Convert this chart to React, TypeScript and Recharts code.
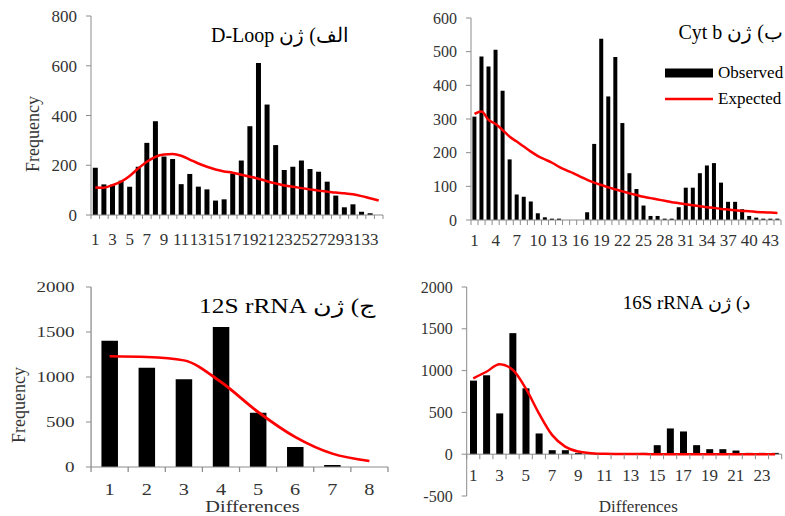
import React from "react";
import { ComposedChart, Bar, Line, XAxis, YAxis, ReferenceLine, Legend } from "recharts";

// panel A: D-Loop
const diffA = ["1","2","3","4","5","6","7","8","9","10","11","12","13","14","15","16","17","18","19","20","21","22","23","24","25","26","27","28","29","30","31","32","33","34"];
const observedA = [190,123,122,138,114,194,290,377,235,225,124,165,114,103,58,63,167,219,357,611,444,281,181,194,219,185,174,134,78,31,43,13,7,0];
const expectedA = [111,110,120,134,157,187,214,234,243,245,238,223,207,194,183,175,170,162,154,146,136,127,119,114,108,103,98,94,90,87,83,76,67,58];
const ticksA = [0,200,400,600,800];

// panel B: Cyt b
const diffB = ["1","2","3","4","5","6","7","8","9","10","11","12","13","14","15","16","17","18","19","20","21","22","23","24","25","26","27","28","29","30","31","32","33","34","35","36","37","38","39","40","41","42","43","44"];
const observedB = [307,486,456,506,384,180,76,69,55,20,8,4,4,0,0,0,23,226,538,367,484,288,139,92,43,12,12,4,4,38,96,96,139,162,169,111,54,54,32,12,7,4,4,4];
const expectedB = [315,322,297,285,267,247,233,218,203,190,180,170,158,148,139,129,119,111,104,97,91,85,79,74,69,65,61,57,53,50,47,44,41,38,36,33,31,29,27,26,24,23,22,21];
const ticksB = [0,100,200,300,400,500,600];

// panel C: 12S rRNA
const diffC = ["1","2","3","4","5","6","7","8"];
const observedC = [1404,1104,974,1556,604,222,22,0];
const expectedC = [1230,1222,1185,944,611,333,148,67];
const ticksC = [0,500,1000,1500,2000];

// panel D: 16S rRNA
const diffD = ["1","2","3","4","5","6","7","8","9","10","11","12","13","14","15","16","17","18","19","20","21","22","23","24"];
const observedD = [880,944,488,1448,788,248,48,48,16,0,0,0,0,16,108,308,272,108,60,60,44,16,16,16];
const expectedD = [907,986,1075,1010,787,489,231,91,32,12,4,2,1,1,0,0,0,0,0,0,0,0,0,0];
const ticksD = [-500,0,500,1000,1500,2000];

const AXIS = "#8c8c8c";
const TEXT = "#333";
const RED = "#ff0000";
const FONT = '"Liberation Serif", "Times New Roman", serif';
const C_SCALE = 1.27;

const toRows = (cats: string[], obs: number[], exp: number[]) =>
  cats.map((d, i) => ({ d, observed: obs[i], expected: exp[i] }));

type BandTickProps = {
  x?: number; y?: number; payload?: any; index?: number;
  half: number; count: number; every: number; fontSize: number; labelDy: number; tickLen: number; shift?: number;
};

// excel-style ticks: marks between categories, label on every n-th
function BandTick({ x = 0, y = 0, payload, index = 0, half, count, every, fontSize, labelDy, tickLen, shift = 0 }: BandTickProps) {
  const y0 = y - shift;
  return (
    <g>
      <line x1={x - half} x2={x - half} y1={y0} y2={y0 + tickLen} stroke={AXIS} />
      {index === count - 1 && <line x1={x + half} x2={x + half} y1={y0} y2={y0 + tickLen} stroke={AXIS} />}
      {index % every === 0 && (
        <text x={x} y={y0 + labelDy} textAnchor="middle" fontSize={fontSize} fill={TEXT} fontFamily={FONT}>
          {payload?.value}
        </text>
      )}
    </g>
  );
}

function renderLegend(props: any) {
  const items = (props.payload || []).slice().sort((a: any, b: any) => (a.type === "line" ? 1 : 0) - (b.type === "line" ? 1 : 0));
  return (
    <div style={{ fontFamily: FONT }}>
      {items.map((e: any) => (
        <div key={e.value} style={{ display: "flex", alignItems: "center", height: 26 }}>
          <svg width={48} height={12}>
            {e.type === "line"
              ? <line x1={0} x2={48} y1={6} y2={6} stroke={e.color} strokeWidth={2.5} />
              : <rect x={0} y={1.5} width={48} height={9} fill={e.color} />}
          </svg>
          <span style={{ marginLeft: 5, fontSize: 17, color: "#000", whiteSpace: "nowrap" }}>{e.value}</span>
        </div>
      ))}
    </div>
  );
}

export default function App() {
  const rowsA = toRows(diffA, observedA, expectedA);
  const rowsB = toRows(diffB, observedB, expectedB);
  const rowsC = toRows(diffC, observedC, expectedC);
  const rowsD = toRows(diffD, observedD, expectedD);

  const yCommon = { axisLine: { stroke: AXIS }, tickLine: { stroke: AXIS }, tickSize: 5, tickMargin: 9, interval: 0 as const };

  return (
    <div style={{ position: "absolute", left: 0, top: 0, width: 785, height: 516, overflow: "hidden", background: "#fff", fontFamily: FONT }}>
      {/* A */}
      <div style={{ position: "absolute", left: 0, top: 0 }}>
        <ComposedChart width={390} height={250} data={rowsA} margin={{ top: 16, right: 7, bottom: 0, left: 0 }} barCategoryGap="21%">
          <XAxis dataKey="d" height={35} interval={0} axisLine={{ stroke: AXIS }} tickLine={false} tickSize={0} tickMargin={0}
            tick={(p: any) => <BandTick {...p} half={292 / 34 / 2} count={34} every={2} fontSize={17} labelDy={30} tickLen={4} />} />
          <YAxis width={91} domain={[0, 800]} ticks={ticksA} tick={{ fontSize: 17, fill: TEXT }} {...yCommon} />
          <Bar dataKey="observed" name="Observed" fill="#000" isAnimationActive={false} />
          <Line dataKey="expected" name="Expected" type="monotone" stroke={RED} strokeWidth={2.5} dot={false} isAnimationActive={false} />
        </ComposedChart>
      </div>

      {/* B */}
      <div style={{ position: "absolute", left: 390, top: 0 }}>
        <ComposedChart width={395} height={250} data={rowsB} margin={{ top: 18, right: 4, bottom: 0, left: 0 }} barCategoryGap="20%">
          <XAxis dataKey="d" height={30} interval={0} axisLine={{ stroke: AXIS }} tickLine={false} tickSize={0} tickMargin={0}
            tick={(p: any) => <BandTick {...p} half={310 / 44 / 2} count={44} every={3} fontSize={17} labelDy={26} tickLen={5} />} />
          <YAxis width={81} domain={[0, 600]} ticks={ticksB} tick={{ fontSize: 16, fill: TEXT }} {...yCommon} />
          <Legend layout="vertical" align="center" verticalAlign="middle" content={renderLegend}
            wrapperStyle={{ left: 275, top: 60, width: 120 }} />
          <Bar dataKey="observed" name="Observed" fill="#000" isAnimationActive={false} />
          <Line dataKey="expected" name="Expected" type="monotone" stroke={RED} strokeWidth={2.5} dot={false} isAnimationActive={false} legendType="line" />
        </ComposedChart>
      </div>

      {/* C (source is stretched horizontally) */}
      <div style={{ position: "absolute", left: 0, top: 260, transform: `scaleX(${C_SCALE})`, transformOrigin: "0 0" }}>
        <ComposedChart width={307} height={256} data={rowsC} margin={{ top: 27, right: 1.5, bottom: 0, left: 0 }} barCategoryGap="28%">
          <XAxis dataKey="d" height={49} interval={0} axisLine={{ stroke: AXIS }} tickLine={false} tickSize={0} tickMargin={0}
            tick={(p: any) => <BandTick {...p} half={233.8 / 8 / 2} count={8} every={1} fontSize={16} labelDy={28} tickLen={5} />} />
          <YAxis width={71.7} domain={[0, 2000]} ticks={ticksC} tick={{ fontSize: 15, fill: TEXT }} {...yCommon} tickSize={4} tickMargin={9} />
          <Bar dataKey="observed" name="Observed" fill="#000" isAnimationActive={false} />
          <Line dataKey="expected" name="Expected" type="monotone" stroke={RED} strokeWidth={2.5} dot={false} isAnimationActive={false} />
        </ComposedChart>
      </div>

      {/* D */}
      <div style={{ position: "absolute", left: 390, top: 260 }}>
        <ComposedChart width={395} height={256} data={rowsD} margin={{ top: 27, right: 3.3, bottom: 0, left: 0 }} barCategoryGap="25%">
          <XAxis dataKey="d" height={20} interval={0} axisLine={false} tickLine={false} tickSize={0} tickMargin={0}
            tick={(p: any) => <BandTick {...p} half={315 / 24 / 2} count={24} every={2} fontSize={17} labelDy={27} tickLen={5} shift={209 * 0.2} />} />
          <YAxis width={76.7} domain={[-500, 2000]} ticks={ticksD} tick={{ fontSize: 16, fill: TEXT }} {...yCommon} />
          <ReferenceLine y={0} stroke={AXIS} />
          <Bar dataKey="observed" name="Observed" fill="#000" isAnimationActive={false} />
          <Line dataKey="expected" name="Expected" type="monotone" stroke={RED} strokeWidth={2.5} dot={false} isAnimationActive={false} />
        </ComposedChart>
      </div>

      <svg width={785} height={516} style={{ position: "absolute", left: 0, top: 0, pointerEvents: "none" }} fontFamily={FONT}>
        <text x={280} y={41.7} textAnchor="middle" direction="rtl" fontSize={20} fill="#000">الف) ژن D-Loop</text>
        <text x={783} y={39.3} textAnchor="start" direction="rtl" fontSize={20} fill="#000">ب) ژن Cyt b</text>
        <text transform={`translate(287.5,313.3) scale(${C_SCALE},1)`} textAnchor="middle" direction="rtl" fontSize={20} fill="#000">ج) ژن 12S rRNA</text>
        <text x={686.5} y={309} textAnchor="middle" direction="rtl" fontSize={19} fill="#000">د) ژن 16S rRNA</text>

        <text transform="translate(33,134) rotate(-90)" textAnchor="middle" dy="0.35em" fontSize={18} fill={TEXT}>Frequency</text>
        <text transform="translate(18.3,405) rotate(-90)" textAnchor="middle" dy="0.35em" fontSize={18} fill={TEXT}>Frequency</text>
        <text transform={`translate(252.5,512) scale(${C_SCALE},1)`} textAnchor="middle" fontSize={16} fill={TEXT}>Differences</text>
        <text x={638.3} y={511.7} textAnchor="middle" fontSize={17} fill={TEXT}>Differences</text>
      </svg>
    </div>
  );
}
